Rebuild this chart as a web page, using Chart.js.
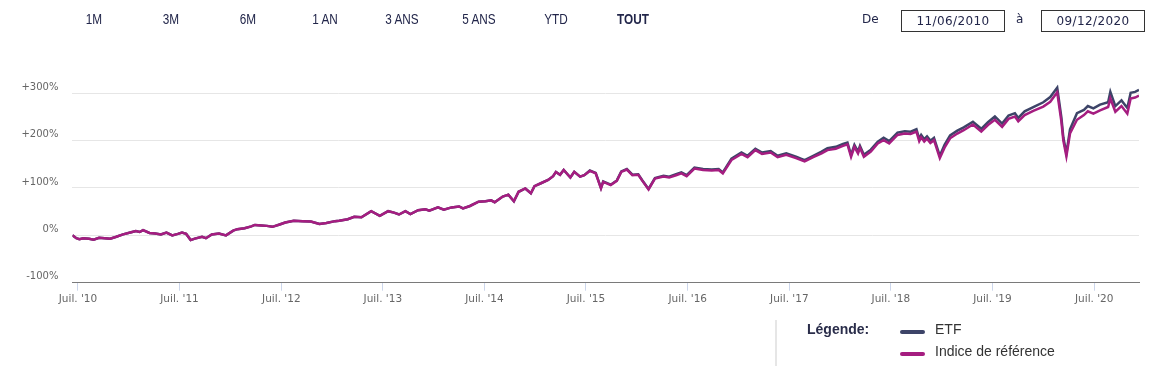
<!DOCTYPE html>
<html lang="fr">
<head>
<meta charset="utf-8">
<script src="https://cdn.jsdelivr.net/npm/chart.js@4.4.1/dist/chart.umd.min.js"></script>
<style>
  html, body { margin: 0; padding: 0; background: #fff; }
  body { width: 1157px; height: 381px; position: relative; overflow: hidden; font-family: "DejaVu Sans", sans-serif; }
  #graphe { position: absolute; left: 0; top: 0; }
  .periode { position: absolute; top: 11px; font: 14px "Liberation Sans", Arial, sans-serif; color: #22264a; transform: translateX(-50%) scaleX(0.84); white-space: nowrap; }
  .periode.actif { font-weight: bold; }
  .lbl { position: absolute; top: 12px; font-size: 12px; color: #22264a; }
  .boite { position: absolute; top: 10px; width: 104px; height: 22px; box-sizing: border-box; border: 1px solid #333; text-align: center; line-height: 20px; font-size: 12px; letter-spacing: 0.4px; color: #22264a; }
  #legende-sep { position: absolute; left: 775px; top: 320px; width: 2px; height: 46px; background: #e6e6e6; }
  #legende-titre { position: absolute; left: 807px; top: 321px; font: bold 14px "Liberation Sans", Arial, sans-serif; color: #2a2d4a; }
  .leg-trait { position: absolute; left: 900px; width: 25px; height: 4px; border-radius: 2px; }
  .leg-texte { position: absolute; left: 935px; font: 14px "Liberation Sans", Arial, sans-serif; color: #333; }
</style>
</head>
<body>
<canvas id="graphe" width="1157" height="381"></canvas>
<script>
// === DONNEES ===
const dates = [
  "2010-06-11","2010-06-25","2010-07-06","2010-07-20","2010-08-10","2010-08-26","2010-09-15","2010-10-05","2010-10-25","2010-11-16",
  "2010-12-10","2011-01-05","2011-01-25","2011-02-08","2011-02-20","2011-03-15","2011-04-05","2011-04-25","2011-05-15","2011-06-05",
  "2011-06-25","2011-07-10","2011-07-25","2011-08-10","2011-08-25","2011-09-20","2011-10-04","2011-10-25","2011-11-20","2011-12-15",
  "2012-01-10","2012-01-25","2012-02-20","2012-03-15","2012-03-28","2012-04-20","2012-05-10","2012-05-30","2012-06-25","2012-07-15",
  "2012-08-15","2012-09-15","2012-10-15","2012-11-15","2012-12-10","2013-01-10","2013-01-25","2013-02-25","2013-03-20","2013-04-15",
  "2013-05-20","2013-06-20","2013-07-20","2013-08-10","2013-08-28","2013-09-20","2013-10-08","2013-11-05","2013-12-01","2013-12-15",
  "2014-01-15","2014-02-05","2014-03-05","2014-04-01","2014-04-15","2014-05-10","2014-06-10","2014-07-05","2014-07-25","2014-08-07",
  "2014-09-05","2014-09-25","2014-10-15","2014-11-01","2014-11-25","2014-12-15","2014-12-28","2015-01-20","2015-02-15","2015-03-05",
  "2015-03-15","2015-03-30","2015-04-12","2015-05-06","2015-05-20","2015-06-10","2015-06-25","2015-07-15","2015-08-05","2015-08-24",
  "2015-09-01","2015-09-28","2015-10-20","2015-11-05","2015-11-25","2015-12-15","2016-01-05","2016-01-20","2016-02-11","2016-03-05",
  "2016-04-05","2016-04-25","2016-05-20","2016-06-08","2016-06-27","2016-07-25","2016-08-25","2016-09-25","2016-10-20","2016-11-04",
  "2016-12-05","2017-01-10","2017-02-01","2017-03-01","2017-03-25","2017-04-25","2017-05-20","2017-06-20","2017-07-25","2017-08-25",
  "2017-09-25","2017-10-25","2017-11-15","2017-12-15","2018-01-10","2018-01-26","2018-02-08","2018-02-20","2018-03-05","2018-03-12",
  "2018-03-26","2018-04-20","2018-05-15","2018-06-05","2018-06-25","2018-07-25","2018-08-20","2018-09-10","2018-10-01","2018-10-11",
  "2018-10-18","2018-10-29","2018-11-08","2018-11-20","2018-12-03","2018-12-24","2019-01-10","2019-01-30","2019-02-25","2019-03-20",
  "2019-04-22","2019-05-22","2019-06-15","2019-07-10","2019-08-05","2019-08-28","2019-09-20","2019-10-02","2019-10-25","2019-11-25",
  "2019-12-31","2020-01-25","2020-02-19","2020-03-05","2020-03-12","2020-03-23","2020-04-05","2020-04-30","2020-05-25","2020-06-08",
  "2020-06-28","2020-07-22","2020-08-20","2020-08-28","2020-09-15","2020-10-07","2020-10-28","2020-11-09","2020-11-25","2020-12-09"
];

// performance cumulée en %
const indice = [
  0,-6,-8,-6,-7,-9,-5,-6,-7,-3,
  2,6,9,7,11,5,4,2,6,0,
  3,6,3,-10,-7,-3,-6,2,4,0,
  10,13,15,19,22,21,20,18,23,27,
  31,30,29,24,26,30,31,34,39,38,
  51,41,51,48,44,51,45,53,55,52,
  59,54,59,61,57,62,71,72,74,70,
  82,86,72,92,99,89,104,110,117,125,
  134,128,138,122,134,124,127,136,131,99,
  113,106,115,134,139,127,128,115,97,120,
  124,122,127,131,125,141,138,137,138,131,
  159,172,165,180,172,175,165,170,163,156,
  165,173,180,183,189,192,166,187,173,185,
  166,177,194,201,194,212,215,214,219,199,
  207,198,204,195,201,163,185,205,215,222,
  234,219,233,244,229,246,251,241,254,263,
  272,282,302,240,200,167,215,244,254,262,
  257,264,271,289,261,273,257,289,291,295
];

const etf = [
  0,-6,-8,-6,-7,-9,-5,-6,-7,-3,
  2,6,9,7,11,5,4,2,6,0,
  3,6,3,-10,-7,-3,-6,2,4,0,
  10,13,15,19,22,21,20,18,23,27,
  31,30,29,24,26,30,31,34,39,38,
  51,41,51,48,44,51,45,53,55,52,
  59,54,59,61,57,62,71,72,74,70,
  82,86,72,92,99,89,104,110,117,125,
  134,128,138,122,134,124,127,137,132,100,
  114,107,116,135,140,128,129,116,98,121,
  126,124,129,133,127,143,140,139,140,133,
  162,175,168,183,175,178,168,173,166,159,
  168,177,184,187,193,196,170,191,177,189,
  170,181,198,206,199,217,220,219,224,204,
  212,203,209,200,206,168,191,211,221,228,
  240,225,239,251,236,253,258,248,262,271,
  281,292,312,249,207,173,224,258,265,273,
  268,276,281,303,273,285,269,301,303,307
];

const nomsSeries = ["ETF", "Indice de référence"];
const couleursSeries = ["#3d4468", "#a51d80"];
const anneesTicks = [2010, 2011, 2012, 2013, 2014, 2015, 2016, 2017, 2018, 2019, 2020];
const valeursY = [-100, 0, 100, 200, 300];
const periodes = ["1M", "3M", "6M", "1 AN", "3 ANS", "5 ANS", "YTD", "TOUT"];
const dateDebut = "11/06/2010";
const dateFin = "09/12/2020";

// === BARRE DU HAUT ===
periodes.forEach(function (p, i) {
  const el = document.createElement("span");
  el.className = "periode" + (p === "TOUT" ? " actif" : "");
  el.textContent = p;
  el.style.left = (93.5 + i * 77) + "px";
  document.body.appendChild(el);
});

function ajoute(html) {
  document.body.insertAdjacentHTML("beforeend", html);
}
ajoute('<span class="lbl" style="left:862px">De</span>');
ajoute('<div class="boite" style="left:901px">' + dateDebut + '</div>');
ajoute('<span class="lbl" style="left:1016px">à</span>');
ajoute('<div class="boite" style="left:1041px">' + dateFin + '</div>');

// === LEGENDE ===
ajoute('<div id="legende-sep"></div>');
ajoute('<div id="legende-titre">Légende:</div>');
nomsSeries.forEach(function (nom, i) {
  ajoute('<div class="leg-trait" style="top:' + (330 + i * 22) + 'px;background:' + couleursSeries[i] + '"></div>');
  ajoute('<div class="leg-texte" style="top:' + (321 + i * 22) + 'px">' + nom + '</div>');
});

// === GRAPHIQUE ===
function versJour(s) {
  const p = s.split("-");
  return Date.UTC(+p[0], +p[1] - 1, +p[2]);
}
const xs = dates.map(versJour);
const police = { family: "DejaVu Sans", size: 10 };

new Chart(document.getElementById("graphe"), {
  type: "line",
  data: {
    datasets: [
      {
        label: nomsSeries[1],
        data: xs.map((x, i) => ({ x: x, y: indice[i] })),
        borderColor: couleursSeries[1],
        borderWidth: 2.5,
        pointRadius: 0,
        tension: 0,
        order: 0
      },
      {
        label: nomsSeries[0],
        data: xs.map((x, i) => ({ x: x, y: etf[i] })),
        borderColor: couleursSeries[0],
        borderWidth: 2.5,
        pointRadius: 0,
        tension: 0,
        order: 1
      }
    ]
  },
  options: {
    responsive: false,
    animation: false,
    layout: { padding: { top: 69.6, right: 18, left: 0, bottom: 0 } },
    plugins: { legend: { display: false }, tooltip: { enabled: false } },
    scales: {
      x: {
        type: "linear",
        min: versJour("2010-06-11"),
        max: versJour("2020-12-09"),
        afterBuildTicks: function (s) {
          s.ticks = anneesTicks.map(a => ({ value: Date.UTC(a, 6, 1) }));
        },
        afterFit: function (s) { s.height = 98.3; },
        grid: { drawOnChartArea: false, drawTicks: true, tickLength: 8, tickColor: "#ccd6eb" },
        border: { display: true, color: "#7a7a7a", width: 1 },
        ticks: {
          autoSkip: false,
          maxRotation: 0,
          padding: 2,
          color: "#666",
          font: { family: "DejaVu Sans", size: 10.5 },
          callback: v => "Juil. '" + String(new Date(v).getUTCFullYear()).slice(2)
        }
      },
      y: {
        min: -100,
        max: 350,
        afterBuildTicks: function (s) {
          s.ticks = valeursY.map(v => ({ value: v }));
        },
        afterFit: function (s) { s.width = 72.4; },
        grid: { color: "#e6e6e6", drawTicks: false },
        border: { display: false },
        ticks: {
          padding: 14,
          labelOffset: -6,
          color: "#666",
          font: police,
          callback: v => (v > 0 ? "+" : "") + v + "%"
        }
      }
    }
  }
});
</script>
</body>
</html>
